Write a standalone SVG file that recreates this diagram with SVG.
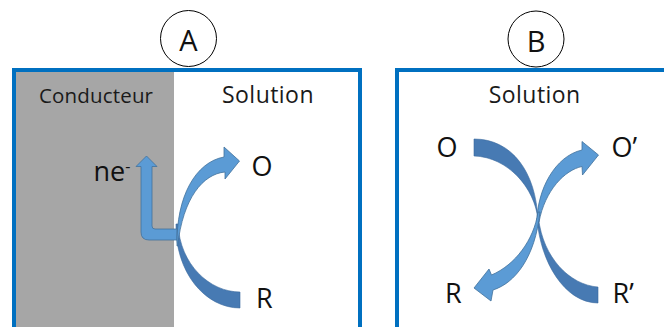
<svg xmlns="http://www.w3.org/2000/svg" width="664" height="327" viewBox="0 0 664 327">
  <style>
    .panel { fill: none; stroke: #0070C0; stroke-width: 4; }
    .badge { fill: #ffffff; stroke: #000000; stroke-width: 1; }
    .lbl { font-family: "Open Sans", "Noto Sans", sans-serif; fill: #111111; }
    .hdr { font-family: "Open Sans", "Noto Sans", sans-serif; fill: #1a1a1a; }
    .light { fill: #5B9BD5; stroke: #41719C; stroke-width: 0.8; stroke-linejoin: miter; }
    .dark { fill: #477AB3; stroke: #3B6A9E; stroke-width: 0.6; }
  </style>

  <g id="panelA">
    <rect x="16" y="72" width="158" height="260" fill="#A6A6A6"/>
    <rect class="panel" x="14" y="70" width="346" height="300"/>
    <text class="hdr" x="39" y="103.3" font-size="20.5" textLength="114" lengthAdjust="spacing">Conducteur</text>
    <text class="hdr" x="222" y="103.3" font-size="23" textLength="91.5" lengthAdjust="spacing">Solution</text>
  </g>
  <g id="badgeA">
    <circle class="badge" cx="188.5" cy="38.5" r="28"/>
    <text class="lbl" x="188.5" y="51" font-size="29" text-anchor="middle">A</text>
  </g>

  <g id="panelB">
    <rect class="panel" x="397" y="70" width="300" height="300"/>
    <text class="hdr" x="488.7" y="103.3" font-size="23" textLength="91.5" lengthAdjust="spacing">Solution</text>
  </g>
  <g id="badgeB">
    <circle class="badge" cx="536" cy="39" r="28"/>
    <text class="lbl" x="536" y="51.5" font-size="29" text-anchor="middle">B</text>
  </g>

  <g id="nodeA-ne"><text class="lbl" x="93.5" y="181" font-size="27">ne<tspan font-size="16" dy="-9">-</tspan></text></g>
  <g id="nodeA-O"><text class="lbl" x="251.5" y="175.5" font-size="27">O</text></g>
  <g id="nodeA-R"><text class="lbl" x="256" y="308" font-size="27">R</text></g>
  <g id="nodeB-O"><text class="lbl" x="436.5" y="157" font-size="27">O</text></g>
  <g id="nodeB-O2"><text class="lbl" x="611.5" y="157" font-size="27">O’</text></g>
  <g id="nodeB-R"><text class="lbl" x="445" y="303.3" font-size="27">R</text></g>
  <g id="nodeB-R2"><text class="lbl" x="612.5" y="303.3" font-size="27">R’</text></g>

  <g id="connectors">
    <!-- Panel A -->
    <path class="dark" d="M176,224 C175,272 205,308 240,308 L240,292 C210,292 180,265 178,224 Z"/>
    <path class="light" d="M177,229 L155,229 Q152,229 152,226 L152,166.5 L157,166.5 L146.5,156 L136,166.5 L141,166.5 L141,232 Q141,240 149,240 L177,240 Z"/>
    <path class="light" d="M177,246 C176,196 196,162 224,157 L224,147 L239.5,161 L225,179 L225,172 C203,174 183,198 177.6,246 Z"/>
    <!-- Panel B -->
    <path class="dark" d="M474,139 C512,139 536,172 538,220 C535,188 508,157 474,156 Z"/>
    <path class="dark" d="M537,218 C540,262 565,303 598,303 L598,287 C570,285 543,258 538.5,218 Z"/>
    <path class="light" d="M537,222 C537,190 555,156 582,150 L582,141.5 L598.5,155 L582.5,175 L582,166.5 C565,170 545,190 539,222 Z"/>
    <path class="light" d="M538,212 C534,240 515,265 491.5,275 L489,269 L474,288 L491,301 L493,290 C515,283 535,258 540,212 Z"/>
  </g>
</svg>
